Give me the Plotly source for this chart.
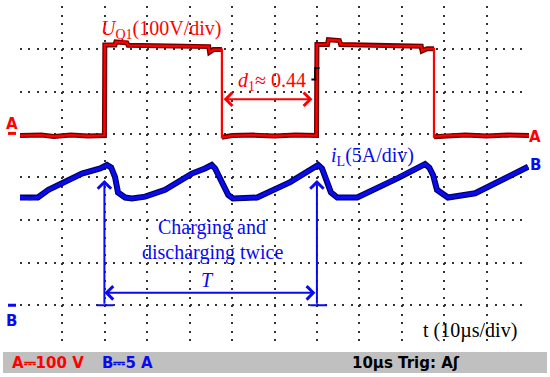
import plotly.graph_objects as go

# --- scope settings ---
time_range = [0, 120]          # us, 10 us/div, 12 div
volt_range = [-500, 300]       # channel A, 100 V/div
amp_range = [-5, 35]           # channel B, 5 A/div

# --- channel A: U_Q1 (V) ---
u_t = [0, 5, 8, 12, 16, 19.9,
       20.0, 22.4, 22.6, 25.2, 25.5, 35, 42, 44.5, 44.7, 45.6, 47.6,
       47.6, 48.5, 50, 55, 60, 65, 69.9,
       70.0, 72.5, 72.7, 75.3, 75.6, 85, 94.6, 94.8, 96.0, 97.6,
       97.6, 99, 100, 105, 110, 115, 120]
u_v = [-3, -2, -5, -2, -4, -3,
       209, 209, 216, 214, 208, 206, 205, 205, 192, 198, 198,
       -7, -6, -3, -2, -4, -2, -3,
       210, 210, 221, 219, 210, 207, 206, 195, 200, 200,
       -6, -5, -3, -2, -4, -2, -3]

# --- channel B: i_L (A) ---
i_t = [0, 2.4, 4.2, 6.7, 10.6, 14.6, 18.9, 20.5, 21.5, 22.4, 23.1, 24.8, 26.4,
       29.5, 34.2, 40.5, 43.6, 45.2, 46.0, 47.6, 49.1, 50.2, 55.9, 63.7,
       70.3, 71.2, 72.4, 73.3, 74.8, 79.5, 89.2, 95.5, 96.5, 97.4, 98.3,
       100.9, 107.3, 112.7, 119.8]
i_a = [12.6, 12.5, 12.6, 13.5, 14.4, 15.4, 16.0, 16.4, 16.1, 15.0, 13.2, 12.6, 12.5,
       12.7, 13.5, 15.4, 16.0, 16.4, 16.0, 14.3, 12.9, 12.5, 12.6, 14.4,
       16.4, 16.0, 14.6, 13.2, 12.6, 12.6, 14.9, 16.5, 16.1, 15.2, 13.5,
       12.6, 13.1, 14.4, 16.2]

# trigger marker (time, level)
trig_t = 69.6
trig_lo, trig_hi = 128, 155

# annotation markers
d1_start, d1_end, d1_level = 48.0, 69.3, 82      # us, us, V
T_start, T_end = 19.9, 70.0                       # us
T_level = -371                                     # V (axis A scale)
arrow_top, arrow_base = -107, -400                 # V (axis A scale)

RED = "#ff0000"
BLUE = "#0a0aee"
SERIF = "Liberation Serif"
SANS = "DejaVu Sans"


def outline_parts(xs, ys):
    # break the outline at vertical edges so they stay thin
    ox, oy = [], []
    for k in range(len(xs)):
        if k > 0 and xs[k] == xs[k - 1]:
            ox.append(None)
            oy.append(None)
        ox.append(xs[k])
        oy.append(ys[k])
    return ox, oy


fig = go.Figure()

ox, oy = outline_parts(u_t, u_v)
fig.add_trace(go.Scatter(x=ox, y=oy, mode="lines", line=dict(color="#6a0000", width=5),
                         hoverinfo="skip"))
fig.add_trace(go.Scatter(x=u_t, y=u_v, mode="lines", line=dict(color=RED, width=2.2)))

fig.add_trace(go.Scatter(x=i_t, y=i_a, yaxis="y2", mode="lines",
                         line=dict(color="#00006a", width=6)))
fig.add_trace(go.Scatter(x=i_t, y=i_a, yaxis="y2", mode="lines",
                         line=dict(color=BLUE, width=3.5)))

# trigger glyph
fig.add_trace(go.Scatter(x=[trig_t - 0.9, trig_t, trig_t, trig_t + 1.0],
                         y=[trig_lo, trig_lo, trig_hi, trig_hi], mode="lines",
                         line=dict(color="black", width=2)))

anns = []


def text(x, y, s, color, size=20, family=SERIF, xref="x", yref="y", xanchor="center"):
    anns.append(dict(x=x, y=y, xref=xref, yref=yref, text=s, showarrow=False,
                     font=dict(family=family, size=size, color=color), xanchor=xanchor,
                     yanchor="middle"))


def arrow(x, y, ax, ay, color, both=False):
    anns.append(dict(x=x, y=y, ax=ax, ay=ay, xref="x", yref="y", axref="x", ayref="y",
                     text="", showarrow=True, arrowhead=4, arrowsize=1.3, arrowwidth=2,
                     arrowcolor=color, arrowside="end+start" if both else "end"))


text(33.3, 244, "<i>U</i><sub>Q1</sub>(100V/div)", RED)
text(59.5, 124, "<i>d</i><sub>1</sub>≈ 0.44", RED)
arrow(d1_start, d1_level, d1_end, d1_level, RED, both=True)

text(83.0, -53, "<i>i</i><sub>L</sub>(5A/div)", BLUE)
text(45.3, -217, "Charging and", BLUE)
text(45.3, -276, "discharging twice", BLUE)
text(44.3, -341, "<i>T</i>", BLUE)
arrow(T_start, arrow_top, T_start, arrow_base, BLUE)
arrow(T_end, arrow_top, T_end, arrow_base, BLUE)
arrow(T_start, T_level, T_end, T_level, BLUE, both=True)

text(106.1, -458, "t (10µs/div)", "black")

# channel markers
text(-0.016, 0.655, "<b>A</b>", RED, size=15, family=SANS, xref="paper", yref="paper")
text(1.012, 0.617, "<b>A</b>", RED, size=15, family=SANS, xref="paper", yref="paper")
text(1.012, 0.535, "<b>B</b>", BLUE, size=15, family=SANS, xref="paper", yref="paper")
text(-0.016, 0.08, "<b>B</b>", BLUE, size=15, family=SANS, xref="paper", yref="paper")

# status bar
text(-0.02, -0.043, "<b>A⎓100 V</b>", RED, size=15, family=SANS,
     xref="paper", yref="paper", xanchor="left")
text(0.157, -0.043, "<b>B⎓5 A</b>", BLUE, size=15, family=SANS,
     xref="paper", yref="paper", xanchor="left")
text(0.648, -0.043, "<b>10µs Trig: Aʃ</b>", "black", size=15, family=SANS,
     xref="paper", yref="paper", xanchor="left")

shapes = [
    dict(type="rect", xref="paper", yref="paper", x0=-0.0334, x1=1.0354, y0=-0.0731,
         y1=-0.0117, fillcolor="#c0c0c0", line=dict(width=0)),
    # ground bars
    dict(type="line", xref="paper", yref="y", x0=-0.0236, x1=-0.0079, y0=2, y1=2,
         line=dict(color=RED, width=3)),
    dict(type="line", xref="paper", yref="y2", x0=-0.0236, x1=-0.0079, y0=0, y1=0,
         line=dict(color=BLUE, width=3)),
    # arrow feet
    dict(type="line", xref="x", yref="y", x0=T_start - 1.8, x1=T_start + 2.1,
         y0=arrow_base, y1=arrow_base, line=dict(color=BLUE, width=2)),
    dict(type="line", xref="x", yref="y", x0=T_end - 1.6, x1=T_end + 2.4,
         y0=arrow_base, y1=arrow_base, line=dict(color=BLUE, width=2)),
]

grid = dict(showgrid=True, gridcolor="#333333", gridwidth=2, zeroline=False,
            showline=False, showticklabels=False, ticks="")

fig.update_layout(
    width=550, height=377,
    margin=dict(l=20, r=21, t=6, b=29, autoexpand=False),
    paper_bgcolor="white", plot_bgcolor="white",
    showlegend=False,
    xaxis=dict(range=time_range, tick0=0, dtick=10, griddash="2px,6.55px", **grid),
    yaxis=dict(range=volt_range, tick0=0, dtick=100, griddash="2px,6.48px", **grid),
    yaxis2=dict(range=amp_range, overlaying="y", showgrid=False, zeroline=False,
                showticklabels=False),
    annotations=anns,
    shapes=shapes,
)

# the page's default body margin would shift the figure by 8px
fig.write_html("out.html", config={"displayModeBar": False},
               post_script="document.body.style.margin = '0';")
